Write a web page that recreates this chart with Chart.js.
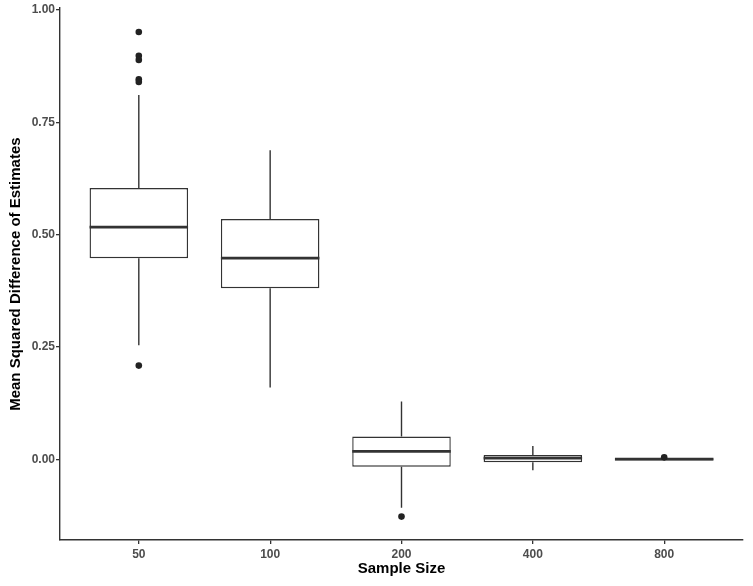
<!DOCTYPE html>
<html>
<head>
<meta charset="utf-8">
<script src="https://cdn.jsdelivr.net/npm/chart.js@4.4.1/dist/chart.umd.min.js"></script>
<style>
  body { margin: 0; background: #fff; }
  #wrap { width: 753px; height: 586px; }
</style>
</head>
<body>
<div id="wrap"><canvas id="myChart" width="753" height="586"></canvas></div>
<script>
// sample sizes on the x axis
var categories = ['50', '100', '200', '400', '800'];

// box statistics per sample size
var lowerWhisker = [0.254, 0.160, -0.107, -0.024, -0.001];
var q1Values     = [0.448, 0.381, -0.016, -0.006, -0.002];
var medians      = [0.517, 0.448, 0.018, 0.003, 0.001];
var q3Values     = [0.604, 0.535, 0.051, 0.010, 0.003];
var upperWhisker = [0.811, 0.688, 0.129, 0.030, 0.004];

// outliers: category index and value
var outlierCat = [0, 0, 0, 0, 0, 0, 2, 4];
var outlierVal = [0.951, 0.898, 0.889, 0.846, 0.840, 0.209, -0.127, 0.005];

var yTicks = [0, 0.25, 0.5, 0.75, 1.0];

var boxData = categories.map(function(c, i) {
    return { x: i, y: [q1Values[i], q3Values[i]] };
});
var outlierData = outlierVal.map(function(v, i) {
    return { x: outlierCat[i], y: v };
});

// draw whiskers and median lines with the chart's scales
var boxExtras = {
    id: 'boxExtras',
    afterDatasetsDraw: function(chart) {
        var ctx = chart.ctx;
        var xs = chart.scales.x, ys = chart.scales.y;
        var half = xs.getPixelForValue(0.375) - xs.getPixelForValue(0);
        ctx.save();
        ctx.strokeStyle = '#333333';
        categories.forEach(function(c, i) {
            var cx = xs.getPixelForValue(i);
            ctx.lineWidth = 1.4;
            ctx.beginPath();
            ctx.moveTo(cx, ys.getPixelForValue(q3Values[i]));
            ctx.lineTo(cx, ys.getPixelForValue(upperWhisker[i]));
            ctx.moveTo(cx, ys.getPixelForValue(q1Values[i]));
            ctx.lineTo(cx, ys.getPixelForValue(lowerWhisker[i]));
            ctx.stroke();
            ctx.lineWidth = 2.8;
            ctx.beginPath();
            ctx.moveTo(cx - half, ys.getPixelForValue(medians[i]));
            ctx.lineTo(cx + half, ys.getPixelForValue(medians[i]));
            ctx.stroke();
        });
        // outliers on top
        ctx.fillStyle = '#222222';
        outlierData.forEach(function(p) {
            ctx.beginPath();
            ctx.arc(xs.getPixelForValue(p.x), ys.getPixelForValue(p.y), 3.3, 0, Math.PI * 2);
            ctx.fill();
        });
        ctx.restore();
    }
};

var tickFont = { family: 'Liberation Sans, Arial, sans-serif', size: 12, weight: 'bold' };
var titleFont = { family: 'Liberation Sans, Arial, sans-serif', size: 15, weight: 'bold' };

var ctx = document.getElementById('myChart').getContext('2d');
var myChart = new Chart(ctx, {
    type: 'bar',
    data: {
        datasets: [{
            label: 'box',
            data: boxData,
            backgroundColor: '#ffffff',
            borderColor: '#333333',
            borderWidth: 1.4,
            borderSkipped: false,
            barPercentage: 0.75,
            categoryPercentage: 1.0
        }]
    },
    plugins: [boxExtras],
    options: {
        responsive: false,
        animation: false,
        layout: { padding: { top: 8, right: 10, left: 0, bottom: 0 } },
        plugins: {
            legend: { display: false },
            tooltip: { enabled: false }
        },
        scales: {
            x: {
                type: 'linear',
                min: -0.6,
                max: 4.6,
                offset: false,
                afterBuildTicks: function(scale) {
                    scale.ticks = categories.map(function(c, i) { return { value: i }; });
                },
                afterFit: function(scale) { scale.height = 46; },
                ticks: {
                    callback: function(v) { return categories[v]; },
                    color: '#4d4d4d',
                    font: tickFont,
                    padding: 3
                },
                grid: { offset: false, drawOnChartArea: false, drawTicks: true, tickLength: 4, color: '#333333', lineWidth: 1.3 },
                border: { display: true, color: '#333333', width: 1.4 },
                title: { display: true, text: 'Sample Size', color: '#000', font: titleFont, padding: { top: 2, bottom: 8 } }
            },
            y: {
                min: -0.179,
                max: 1.004,
                afterBuildTicks: function(scale) {
                    scale.ticks = yTicks.map(function(v) { return { value: v }; });
                },
                afterFit: function(scale) { scale.width = 60; },
                ticks: {
                    callback: function(v) { return v.toFixed(2); },
                    color: '#4d4d4d',
                    font: tickFont,
                    padding: 1
                },
                grid: { drawOnChartArea: false, drawTicks: true, tickLength: 4, color: '#333333', lineWidth: 1.3 },
                border: { display: true, color: '#333333', width: 1.4 },
                title: { display: true, text: 'Mean Squared Difference of Estimates', color: '#000', font: titleFont, padding: { top: 7, bottom: 2 } }
            }
        }
    }
});
</script>
</body>
</html>
